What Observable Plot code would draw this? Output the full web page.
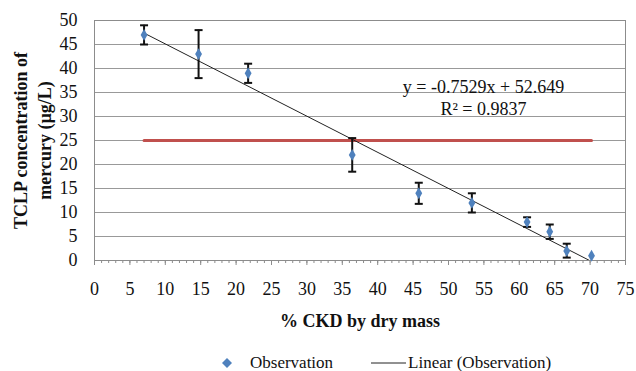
<!DOCTYPE html>
<html>
<head>
<meta charset="utf-8">
<script src="https://cdn.jsdelivr.net/npm/d3@7"></script>
<script src="https://cdn.jsdelivr.net/npm/@observablehq/plot@0.6"></script>
</head>
<body style="margin:0;padding:0;background:#fff;width:636px;height:371px;overflow:hidden">
<div id="chart"></div>
<div id="legend" style="display:flex;align-items:center;margin-left:222px;height:20px;padding-top:8px;font-size:17px;color:#111"></div>
<script>
// Data
const ckd       = [7, 14.7, 21.7, 36.4, 45.8, 53.3, 61.1, 64.3, 66.7, 70.2];
const mercury   = [47, 43, 39, 22, 14, 12, 8, 6, 2, 1];
const errLow    = [45, 38, 37, 18.5, 11.8, 10, 7, 4.5, 0.6, null];
const errHigh   = [49, 48, 41, 25.5, 16.2, 14, 9, 7.5, 3.5, null];
const limit     = 25;                 // regulatory limit (red line)
const slope     = -0.7529;
const intercept = 52.649;
const r2        = 0.9837;
const xTicks    = d3.range(0, 76, 5);
const yTicks    = d3.range(0, 51, 5);

const obs = ckd.map((x, i) => ({x, y: mercury[i], lo: errLow[i], hi: errHigh[i]}));
const bars = obs.filter(d => d.lo != null);
const xmin = d3.min(ckd), xmax = d3.max(ckd);
const trend = [xmin, xmax].map(x => ({x, y: slope * x + intercept}));
const limitLine = [xmin, xmax].map(x => ({x, y: limit}));

const capSymbol = {
  draw(ctx, size) {
    const w = Math.sqrt(size / Math.PI);
    ctx.moveTo(-w, 0);
    ctx.lineTo(w, 0);
  }
};

const font = "'Liberation Serif', serif";

const plot = Plot.plot({
  width: 636,
  height: 345,
  marginLeft: 94,
  marginRight: 11,
  marginTop: 20,
  marginBottom: 85,
  style: {fontFamily: font, fontSize: "17px", color: "#111", background: "#fff"},
  x: {domain: [0, 75]},
  y: {domain: [0, 50]},
  marks: [
    Plot.gridY(yTicks, {stroke: "#999", strokeOpacity: 1, strokeWidth: 1}),
    Plot.frame({stroke: "#8c8c8c", strokeWidth: 1}),
    Plot.axisY({ticks: yTicks, tickSize: 0, tickPadding: 17, label: null, fontSize: 18}),
    Plot.axisX({ticks: d3.range(0, 76, 1), tickSize: 3, text: null, label: null, stroke: "#8c8c8c"}),
    Plot.axisX({ticks: xTicks, tickSize: 5, tickPadding: 17, label: null, stroke: "#8c8c8c", fontSize: 18}),
    Plot.line(limitLine, {x: "x", y: "y", stroke: "#c0504d", strokeWidth: 3}),
    Plot.line(trend, {x: "x", y: "y", stroke: "#222", strokeWidth: 1, clip: true}),
    Plot.ruleX(bars, {x: "x", y1: "lo", y2: "hi", stroke: "#111", strokeWidth: 2}),
    Plot.dot(bars, {x: "x", y: "lo", symbol: capSymbol, r: 4, stroke: "#111", strokeWidth: 2, fill: "none"}),
    Plot.dot(bars, {x: "x", y: "hi", symbol: capSymbol, r: 4, stroke: "#111", strokeWidth: 2, fill: "none"}),
    Plot.dot(obs, {x: "x", y: "y", symbol: "diamond", r: 3.6, fill: "#4f81bd", stroke: "none"}),
    Plot.text([`y = ${slope}x + ${intercept}`], {frameAnchor: "top-left", dx: 389, dy: 67, textAnchor: "middle", lineAnchor: "middle", fontSize: 18, fill: "#111"}),
    Plot.text([`R² = ${r2}`], {frameAnchor: "top-left", dx: 389, dy: 89, textAnchor: "middle", lineAnchor: "middle", fontSize: 18, fill: "#111"}),
    Plot.text(["% CKD by dry mass"], {frameAnchor: "bottom", dy: 66, fontSize: 18, fontWeight: "bold", fill: "#111"}),
    Plot.text(["TCLP concentration of\nmercury (µg/L)"], {frameAnchor: "left", dx: -63, rotate: -90, textAnchor: "middle", lineAnchor: "middle", fontSize: 18, fontWeight: "bold", lineHeight: 1.3, fill: "#111"})
  ]
});
document.getElementById("chart").appendChild(plot);

// Legend
const legend = document.getElementById("legend");
legend.innerHTML = `
  <div style="display:flex;align-items:center"><svg width="10" height="10"><path d="M5,0 L10,5 L5,10 L0,5 Z" fill="#4f81bd"/></svg>
  <span style="margin-left:18px">Observation</span></div>
  <div style="display:flex;align-items:center;margin-left:38px"><svg width="35" height="4"><line x1="0" y1="2" x2="35" y2="2" stroke="#222" stroke-width="1"/></svg>
  <span style="margin-left:2px">Linear (Observation)</span></div>`;

// Prefer the serif face on every text element
document.querySelectorAll("svg, svg text, svg tspan, #legend, #legend span, body").forEach(el => {
  el.style.setProperty("font-family", font, "important");
});
</script>
</body>
</html>
